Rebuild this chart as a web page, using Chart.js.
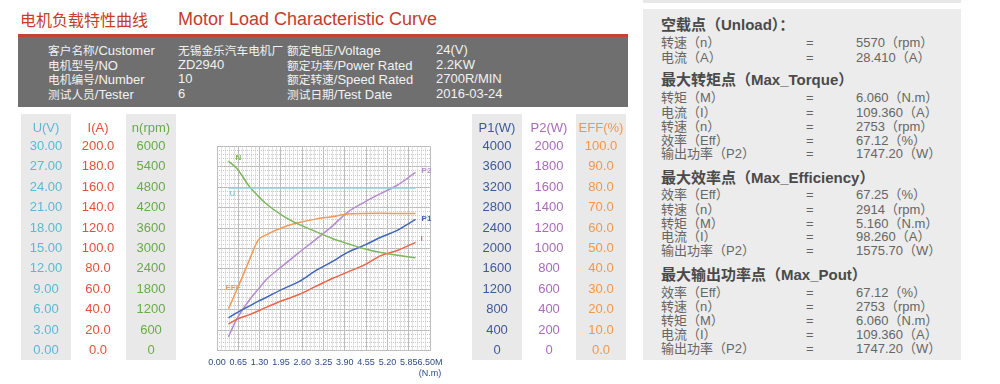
<!DOCTYPE html>
<html>
<head>
<meta charset="utf-8">
<script src="https://cdn.jsdelivr.net/npm/chart.js@4"></script>
<style>
  body { margin: 0; width: 1000px; height: 384px; background: #fff; position: relative; overflow: hidden;
         font-family: "Liberation Sans", "Noto Sans CJK SC", sans-serif; }
  .abs { position: absolute; white-space: nowrap; }
  #tcn { left: 20px; top: 8px; font: 16px/22px "Noto Sans CJK SC", sans-serif; color: #c43c2c; }
  #ten { left: 178px; top: 8px; font: 18px/22px "Liberation Sans", sans-serif; color: #c43c2c; }
  #redbar { left: 18px; top: 34px; width: 610px; height: 3px; background: #c84232; }
  #infobox { left: 18px; top: 37px; width: 610px; height: 70px; background: #6f6f6f; }
  .inf { font-size: 13px; line-height: 14px; color: #f2f2f2; }
  .inf .c { font-size: 11.7px; font-family: "Noto Sans CJK SC", sans-serif; }
  #panelTop { left: 643px; top: 0; width: 318px; height: 3px; background: #e8e8e8; }
  #panel { left: 643px; top: 9px; width: 318px; height: 351px; background: #ececec; }
  .ph { font-size: 15px; line-height: 16px; font-weight: bold; color: #4a4a4a; }
  .pr { font-size: 13px; line-height: 14px; color: #666; }
  #wrap { position: absolute; left: 0; top: 108px; width: 640px; height: 276px; }
</style>
</head>
<body>
<div class="abs" id="tcn">电机负载特性曲线</div>
<div class="abs" id="ten">Motor Load Characteristic Curve</div>
<div class="abs" id="redbar"></div>
<div class="abs" id="infobox"></div>

<div class="abs inf" style="left:48px;top:43px"><span class="c">客户名称</span>/Customer</div>
<div class="abs inf" style="left:48px;top:57.5px"><span class="c">电机型号</span>/NO</div>
<div class="abs inf" style="left:48px;top:72px"><span class="c">电机编号</span>/Number</div>
<div class="abs inf" style="left:48px;top:86.5px"><span class="c">测试人员</span>/Tester</div>
<div class="abs inf" style="left:178px;top:43px"><span class="c">无锡金乐汽车电机厂</span></div>
<div class="abs inf" style="left:178px;top:57.5px">ZD2940</div>
<div class="abs inf" style="left:178px;top:72px">10</div>
<div class="abs inf" style="left:178px;top:86.5px">6</div>
<div class="abs inf" style="left:287px;top:43px"><span class="c">额定电压</span>/Voltage</div>
<div class="abs inf" style="left:287px;top:57.5px"><span class="c">额定功率</span>/Power Rated</div>
<div class="abs inf" style="left:287px;top:72px"><span class="c">额定转速</span>/Speed Rated</div>
<div class="abs inf" style="left:287px;top:86.5px"><span class="c">测试日期</span>/Test Date</div>
<div class="abs inf" style="left:436px;top:43px">24(V)</div>
<div class="abs inf" style="left:436px;top:57.5px">2.2KW</div>
<div class="abs inf" style="left:436px;top:72px">2700R/MIN</div>
<div class="abs inf" style="left:436px;top:86.5px">2016-03-24</div>

<div class="abs" id="panelTop"></div>
<div class="abs" id="panel"></div>
<div id="panelRows"></div>

<div id="wrap"><canvas id="chart"></canvas></div>

<script>
// Courbes en fonction du couple M (N.m)
const torque     = [0.35, 0.6, 1.0, 1.25, 1.5, 2.0, 2.5, 3.0, 3.5, 4.0, 4.5, 5.0, 5.5, 6.06];
const voltage    = [23.9, 23.9, 23.9, 23.9, 23.9, 23.9, 23.9, 23.9, 23.9, 23.9, 23.9, 23.9, 23.9, 23.9];
const current    = [26, 30.5, 35.2, 38.7, 42.3, 49.0, 54.9, 62.6, 70.3, 77.1, 83.9, 93, 98, 106];
const speed      = [5570, 5362, 4810, 4548, 4317, 3969, 3708, 3504, 3301, 3140, 2990, 2880, 2800, 2730];
const powerIn    = [640, 739, 875, 962, 1039, 1204, 1349, 1560, 1736, 1930, 2065, 2220, 2355, 2570];
const powerOut   = [133, 307, 500, 597, 694, 829, 960, 1085, 1215, 1360, 1455, 1540, 1620, 1747];
const efficiency = [20.5, 29.5, 44.8, 54.0, 56.7, 60.3, 62.7, 64.4, 65.6, 66.9, 67.2, 67.25, 67.2, 67.12];

const xTicks      = [0, 0.65, 1.3, 1.95, 2.6, 3.25, 3.9, 4.55, 5.2, 5.85, 6.5];
const xTickLabels = ['0.00', '0.65', '1.30', '1.95', '2.60', '3.25', '3.90', '4.55', '5.20', '5.85', '6.50M'];

const uTicks   = ['0.00', '3.00', '6.00', '9.00', '12.00', '15.00', '18.00', '21.00', '24.00', '27.00', '30.00'];
const iTicks   = ['0.0', '20.0', '40.0', '60.0', '80.0', '100.0', '120.0', '140.0', '160.0', '180.0', '200.0'];
const nTicks   = ['0', '600', '1200', '1800', '2400', '3000', '3600', '4200', '4800', '5400', '6000'];
const p1Ticks  = ['0', '400', '800', '1200', '1600', '2000', '2400', '2800', '3200', '3600', '4000'];
const p2Ticks  = ['0', '200', '400', '600', '800', '1000', '1200', '1400', '1600', '1800', '2000'];
const effTicks = ['0.0', '10.0', '20.0', '30.0', '40.0', '50.0', '60.0', '70.0', '80.0', '90.0', '100.0'];

// Panneau de droite
const panel = [
  ['h', 25, '空载点（Unload）：'],
  ['r', 43.3, '转速（n）', '5570（rpm）'],
  ['r', 58.3, '电流（A）', '28.410（A）'],
  ['h', 80, '最大转矩点（Max_Torque）'],
  ['r', 98.3, '转矩（M）', '6.060（N.m）'],
  ['r', 112.7, '电流（I）', '109.360（A）'],
  ['r', 126.7, '转速（n）', '2753（rpm）'],
  ['r', 140.7, '效率（Eff）', '67.12（%）'],
  ['r', 154.3, '输出功率（P2）', '1747.20（W）'],
  ['h', 178.3, '最大效率点（Max_Efficiency）'],
  ['r', 194.5, '效率（Eff）', '67.25（%）'],
  ['r', 209.5, '转速（n）', '2914（rpm）'],
  ['r', 223.5, '转矩（M）', '5.160（N.m）'],
  ['r', 237, '电流（I）', '98.260（A）'],
  ['r', 251, '输出功率（P2）', '1575.70（W）'],
  ['h', 275, '最大输出功率点（Max_Pout）'],
  ['r', 293.3, '效率（Eff）', '67.12（%）'],
  ['r', 307, '转速（n）', '2753（rpm）'],
  ['r', 321, '转矩（M）', '6.060（N.m）'],
  ['r', 335, '电流（I）', '109.360（A）'],
  ['r', 349.3, '输出功率（P2）', '1747.20（W）']
];

(function () {
  const host = document.getElementById('panelRows');
  panel.forEach(row => {
    const add = (cls, left, top, txt) => {
      const d = document.createElement('div');
      d.className = 'abs ' + cls;
      d.style.left = left + 'px';
      d.style.top = top + 'px';
      d.textContent = txt;
      host.appendChild(d);
    };
    if (row[0] === 'h') {
      add('ph', 661, row[1] - 8, row[2]);
    } else {
      add('pr', 661, row[1] - 7, row[2]);
      add('pr', 806, row[1] - 7, '=');
      add('pr', 856, row[1] - 7, row[3]);
    }
  });
})();

const TICK_FONT = { family: '"Liberation Sans", sans-serif', size: 13 };
const mctx = document.createElement('canvas').getContext('2d');
function textW(s) {
  mctx.font = TICK_FONT.size + 'px ' + TICK_FONT.family;
  return mctx.measureText(s).width;
}

// colonnes de graduation : boîte de l'axe [gauche, droite] et centre du texte
const columns = [
  { id: 'yU',  pos: 'left',  weight: 3, max: 30,   labels: uTicks,   color: '#5bb9d2', title: 'U(V)',   box: [0, 72],    center: 46,  bg: true },
  { id: 'yI',  pos: 'left',  weight: 2, max: 200,  labels: iTicks,   color: '#e4503b', title: 'I(A)',   box: [72, 125],  center: 98,  bg: false },
  { id: 'yN',  pos: 'left',  weight: 1, max: 6000, labels: nTicks,   color: '#68ab48', title: 'n(rpm)', box: [125, 217], center: 151, bg: true },
  { id: 'yP1', pos: 'right', weight: 1, max: 4000, labels: p1Ticks,  color: '#3d5a98', title: 'P1(W)',  box: [430, 523], center: 497, bg: true },
  { id: 'yP2', pos: 'right', weight: 2, max: 2000, labels: p2Ticks,  color: '#a96cba', title: 'P2(W)',  box: [523, 575], center: 549, bg: false },
  { id: 'yE',  pos: 'right', weight: 3, max: 100,  labels: effTicks, color: '#ef984c', title: 'EFF(%)', box: [575, 640], center: 601, bg: true }
];

const scales = {};
columns.forEach(c => {
  const widest = Math.max.apply(null, c.labels.map(textW));
  const pad = c.pos === 'left' ? c.box[1] - c.center - widest / 2 : c.center - c.box[0] - widest / 2;
  scales[c.id] = {
    type: 'linear', position: c.pos, weight: c.weight, min: 0, max: c.max,
    // largeur fixe ; le padding des ticks ne doit pas rogner la zone du graphe
    afterFit: s => { s.width = c.box[1] - c.box[0]; s.paddingTop = 0; s.paddingBottom = 0; },
    border: { display: false },
    grid: c.id === 'yN'
      ? { color: '#b3b3b3', lineWidth: 1, drawTicks: false }
      : { display: false, drawTicks: false },
    ticks: {
      stepSize: c.max / 10, autoSkip: false, crossAlign: 'center', padding: pad,
      color: c.color, font: TICK_FONT,
      callback: (v, i) => c.labels[i]
    }
  };
});

scales.x = {
  type: 'linear', position: 'bottom', min: 0, max: 6.5, weight: 1,
  afterBuildTicks: s => { s.ticks = xTicks.map(v => ({ value: v })); },
  afterFit: s => { s.height = 33.5; },
  border: { display: false },
  grid: { color: '#b3b3b3', lineWidth: 1, drawTicks: false },
  ticks: {
    autoSkip: false, maxRotation: 0, padding: 6.5, color: '#2f4b8c',
    font: { family: '"Liberation Sans", sans-serif', size: 9 },
    callback: (v, i) => i === xTickLabels.length - 1 ? [xTickLabels[i], '(N.m)'] : xTickLabels[i]
  }
};
// grille fine pointillée
scales.xMinor = {
  type: 'linear', position: 'bottom', min: 0, max: 50, weight: 2,
  afterFit: s => { s.height = 0; },
  border: { display: false, dash: [1, 1] },
  grid: { color: '#c8c8c8', drawTicks: false },
  ticks: { display: false, stepSize: 1 }
};
scales.yMinor = {
  type: 'linear', position: 'left', min: 0, max: 50, weight: 0,
  afterFit: s => { s.width = 0; },
  border: { display: false, dash: [1, 1] },
  grid: { color: '#c8c8c8', drawTicks: false },
  ticks: { display: false, stepSize: 1 }
};

const columnsPlugin = {
  id: 'columns',
  beforeDraw(chart) {
    const ctx = chart.ctx;
    ctx.save();
    columns.forEach(c => {
      if (c.bg) {
        ctx.fillStyle = '#e9e9e9';
        ctx.fillRect(c.center - 25, 6, 50, 246);
      }
      ctx.fillStyle = c.color;
      ctx.font = TICK_FONT.size + 'px ' + TICK_FONT.family;
      ctx.textAlign = 'center';
      ctx.textBaseline = 'middle';
      ctx.fillText(c.title, c.center, 20);
    });
    ctx.restore();
  }
};

const tagPlugin = {
  id: 'tags',
  afterDatasetsDraw(chart) {
    const ctx = chart.ctx;
    ctx.save();
    ctx.font = 'bold 8px "Liberation Sans", sans-serif';
    ctx.textBaseline = 'middle';
    ctx.textAlign = 'left';
    chart.data.datasets.forEach((ds, i) => {
      const pts = chart.getDatasetMeta(i).data;
      const p = ds.tagAt === 'start' ? pts[0] : pts[pts.length - 1];
      ctx.fillStyle = ds.borderColor;
      ctx.fillText(ds.tag, p.x + ds.tagDx, p.y + ds.tagDy);
    });
    ctx.restore();
  }
};

function line(data, axis, color, tag, tagAt, dx, dy) {
  return {
    data: data, yAxisID: axis, xAxisID: 'x', borderColor: color, borderWidth: 1.5,
    pointRadius: 0, fill: false, cubicInterpolationMode: 'monotone',
    tag: tag, tagAt: tagAt, tagDx: dx, tagDy: dy
  };
}

new Chart(document.getElementById('chart'), {
  type: 'line',
  data: {
    labels: torque,
    datasets: [
      line(voltage, 'yU', '#8fd0de', 'U', 'start', 1, 6),
      line(speed, 'yN', '#7cb85a', 'N', 'start', 7, -3),
      line(efficiency, 'yE', '#f39a55', 'EFF', 'start', -3, -21),
      line(current, 'yI', '#ec6448', 'I', 'end', 5, -4),
      line(powerIn, 'yP1', '#3f66b8', 'P1', 'end', 6, -1),
      line(powerOut, 'yP2', '#b68ad0', 'P2', 'end', 6, -2)
    ]
  },
  options: {
    responsive: true,
    maintainAspectRatio: false,
    animation: false,
    layout: { padding: { top: 38.5, bottom: 0, left: 0, right: 0 } },
    plugins: { legend: { display: false }, tooltip: { enabled: false } },
    scales: scales
  },
  plugins: [columnsPlugin, tagPlugin]
});
</script>
</body>
</html>
